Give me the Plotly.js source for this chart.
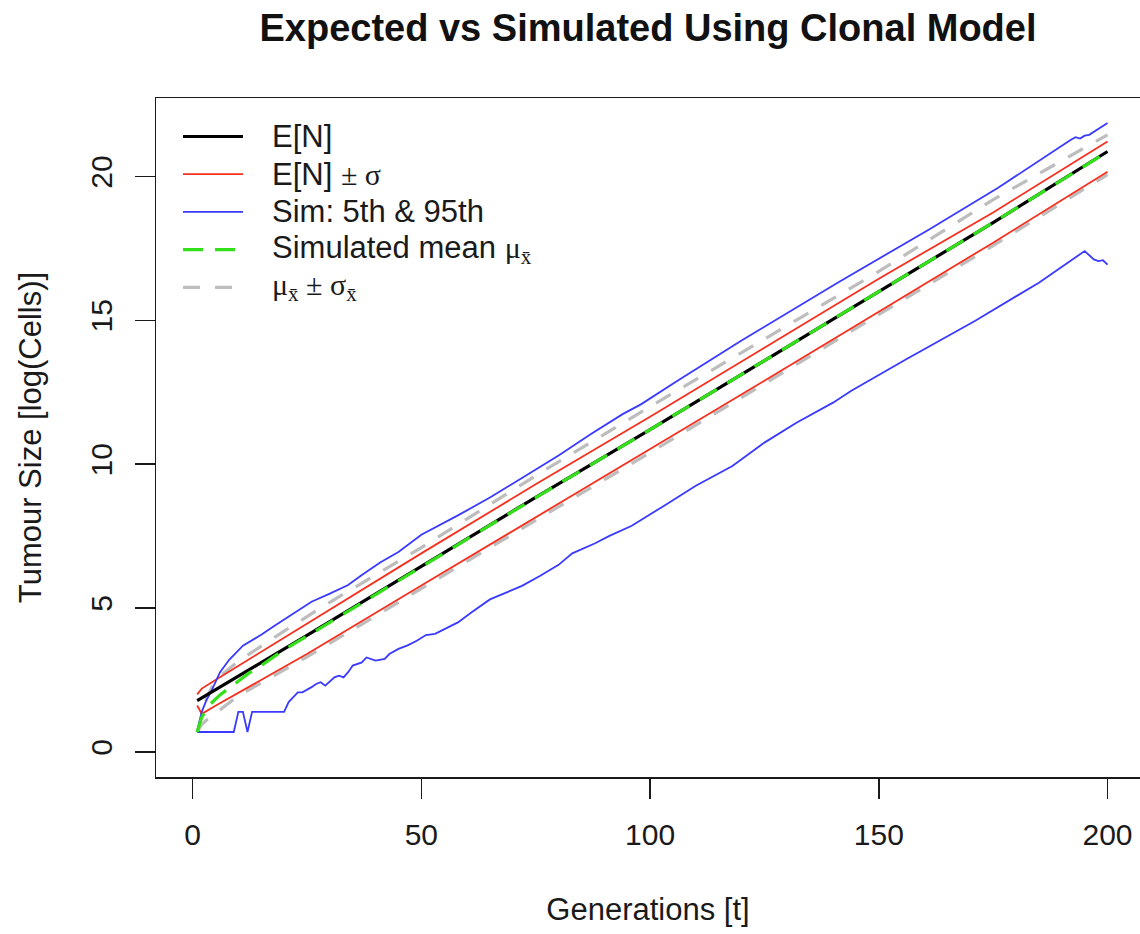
<!DOCTYPE html>
<html>
<head>
<meta charset="utf-8">
<script src="https://cdn.plot.ly/plotly-3.0.1.min.js"></script>
<style>
  html, body { margin: 0; padding: 0; background: #ffffff; overflow: hidden; }
  #chart { width: 1140px; height: 934px; }
</style>
</head>
<body>
<div id="chart"></div>
<script>
// ---- Data: tumour size (log cells) per generation ----

// Expected size E[N]
const tEN = [1, 25, 50, 75, 100, 125, 150, 175, 200];
const EN  = [1.78, 4.05, 6.45, 8.85, 11.2, 13.6, 16.0, 18.4, 20.87];

// E[N] + sigma and E[N] - sigma
const tSig    = [1, 2, 5, 25, 50, 75, 100, 125, 150, 175, 200];
const ENplus  = [2.0, 2.2, 2.5, 4.45, 6.9, 9.3, 11.65, 14.05, 16.45, 18.75, 21.22];
const ENminus = [1.61, 1.32, 1.6, 3.4, 5.78, 8.15, 10.5, 12.9, 15.3, 17.7, 20.17];

// Simulated mean
const tMu = [1, 2, 3, 4, 6, 8, 10, 12, 15, 20, 25, 50, 75, 100, 125, 150, 175, 200];
const mu  = [0.69, 1.2, 1.45, 1.68, 1.98, 2.22, 2.45, 2.7, 3.0, 3.55, 4.02, 6.44, 8.84, 11.2, 13.6, 16.0, 18.4, 20.86];

// Simulated mean + sd
const tMuPlus = [1, 2, 3, 5, 10, 20, 30, 40, 50, 75, 100, 125, 150, 175, 200];
const muPlus  = [0.69, 1.3, 1.85, 2.5, 3.15, 4.2, 5.2, 6.15, 7.1, 9.6, 12.0, 14.35, 16.7, 19.2, 21.45];

// Simulated mean - sd
const tMuMinus = [1, 2, 3, 5, 10, 25, 50, 75, 100, 125, 150, 175, 200];
const muMinus  = [0.69, 0.95, 1.1, 1.35, 1.95, 3.3, 5.68, 8.05, 10.4, 12.8, 15.2, 17.6, 20.07];

// Simulated 95th percentile
const tQ95 = [1, 2, 3, 4, 6, 8, 11, 15, 18, 22, 26, 30, 34, 37, 41, 45, 50, 58, 65, 72, 80, 87, 94, 98,
              106, 120, 141, 161, 176, 192, 193, 194, 195, 196, 200];
const q95  = [0.69, 1.39, 1.79, 2.08, 2.77, 3.2, 3.69, 4.07, 4.39, 4.8, 5.22, 5.5, 5.8, 6.15, 6.58, 6.95, 7.55,
              8.22, 8.84, 9.52, 10.3, 11.04, 11.74, 12.08, 12.9, 14.3, 16.31, 18.16, 19.6, 21.28, 21.37,
              21.32, 21.42, 21.45, 21.86];

// Simulated 5th percentile
const tQ05 = [1, 9, 10, 11, 12, 13, 20, 21, 23, 24, 26, 27, 28, 29, 31, 32, 33, 34, 35, 37, 38, 40, 42, 43,
              45, 47, 49, 51, 53, 58, 61, 65, 68, 72, 76, 80, 83, 88, 91, 96, 103, 110, 118, 125, 132, 140,
              144, 156, 171, 185, 195, 197, 198, 199, 200];
const q05  = [0.69, 0.69, 1.39, 1.39, 0.69, 1.39, 1.39, 1.73, 2.07, 2.07, 2.25, 2.36, 2.42, 2.3, 2.59, 2.65,
              2.59, 2.77, 3.0, 3.11, 3.28, 3.17, 3.23, 3.4, 3.58, 3.7, 3.86, 4.06, 4.1, 4.5, 4.85, 5.3, 5.5,
              5.77, 6.12, 6.5, 6.9, 7.25, 7.5, 7.86, 8.55, 9.25, 9.94, 10.75, 11.44, 12.14, 12.55, 13.65,
              14.98, 16.31, 17.41, 17.12, 17.06, 17.09, 16.94];

// Axis ticks
const xTicks = [0, 50, 100, 150, 200];
const yTicks = [0, 5, 10, 15, 20];

// Legend labels
const SERIF = "'Liberation Serif', 'DejaVu Serif', serif";
const sym = s => `<span style="font-family:${SERIF};font-size:30px">${s}</span>`;
const xbar = `<sub>x&#772;</sub>`;
const legendLabels = [
  'E[N]',
  'E[N] ' + sym('± σ'),
  'Sim: 5th &amp; 95th',
  'Simulated mean ' + sym('μ' + xbar),
  sym('μ' + xbar + ' ± σ' + xbar)
];

// ---- Styles ----
const FONT = "'Liberation Sans', Arial, Helvetica, sans-serif";
const INK = '#1a1a1a';
const styleEN    = { color: '#000000', width: 3.2 };
const styleSig   = { color: '#f5301e', width: 1.8 };
const styleQ     = { color: '#3a3aff', width: 1.8 };
const styleMu    = { color: '#33e01a', width: 3.2, dash: '20px,12px' };
const styleMuSd  = { color: '#bdbdbd', width: 3.2, dash: '17px,15px' };

const line = (x, y, style) => ({
  type: 'scatter', mode: 'lines', x: x, y: y,
  line: Object.assign({}, style), hoverinfo: 'skip', showlegend: false
});

const traces = [
  line(tMuPlus, muPlus, styleMuSd),
  line(tMuMinus, muMinus, styleMuSd),
  line(tSig, ENplus, styleSig),
  line(tSig, ENminus, styleSig),
  line(tQ95, q95, styleQ),
  line(tQ05, q05, styleQ),
  line(tEN, EN, styleEN),
  line(tMu, mu, styleMu)
];

// ---- Layout ----
const W = 1140, H = 934;
const M = { l: 156, r: 0, t: 98, b: 157 };
const pxX = px => (px - M.l) / (W - M.l - M.r);
const pxY = py => (H - M.b - py) / (H - M.t - M.b);

// Legend drawn in the top-left corner of the plot box
const legendStyles = [styleEN, styleSig, styleQ, styleMu, styleMuSd];
const legRow0 = 136.5, legStep = 37.7, legX0 = 183, legX1 = 243, legText = 270;
const shapes = [], annotations = [];
legendLabels.forEach((lab, i) => {
  const yy = pxY(legRow0 + i * legStep);
  shapes.push({
    type: 'line', xref: 'paper', yref: 'paper',
    x0: pxX(legX0), x1: pxX(legX1), y0: yy, y1: yy,
    line: Object.assign({}, legendStyles[i])
  });
  annotations.push({
    xref: 'paper', yref: 'paper', x: pxX(legText), y: yy,
    xanchor: 'left', yanchor: 'middle', showarrow: false,
    text: lab, font: { family: FONT, size: 31, color: INK }
  });
});

const axisCommon = {
  showgrid: false, zeroline: false,
  showline: true, mirror: true, linecolor: INK, linewidth: 1.5,
  ticks: 'outside', ticklen: 20, tickwidth: 1.5, tickcolor: INK,
  tickfont: { family: FONT, size: 30, color: INK }
};

const layout = {
  width: W, height: H,
  margin: M,
  paper_bgcolor: '#ffffff', plot_bgcolor: '#ffffff',
  showlegend: false,
  title: {
    text: '<b>Expected vs Simulated Using Clonal Model</b>',
    font: { family: FONT, size: 38, color: '#111111' },
    x: 0.5, xref: 'paper', xanchor: 'center',
    y: 1 - 28 / H, yref: 'container', yanchor: 'middle'
  },
  xaxis: Object.assign({}, axisCommon, {
    range: [-8, 207.1],
    tickvals: xTicks, ticktext: xTicks.map(String),
    ticklabelstandoff: 10,
    title: { text: 'Generations [t]', font: { family: FONT, size: 31, color: INK }, standoff: 49 }
  }),
  yaxis: Object.assign({}, axisCommon, {
    range: [-0.874, 22.73],
    tickvals: yTicks, ticktext: yTicks.map(String),
    tickangle: -90,
    ticklabelstandoff: 11,
    title: { text: 'Tumour Size [log(Cells)]', font: { family: FONT, size: 31, color: INK }, standoff: 33 }
  }),
  shapes: shapes,
  annotations: annotations
};

Plotly.newPlot('chart', traces, layout, { staticPlot: true, displayModeBar: false });
</script>
</body>
</html>
